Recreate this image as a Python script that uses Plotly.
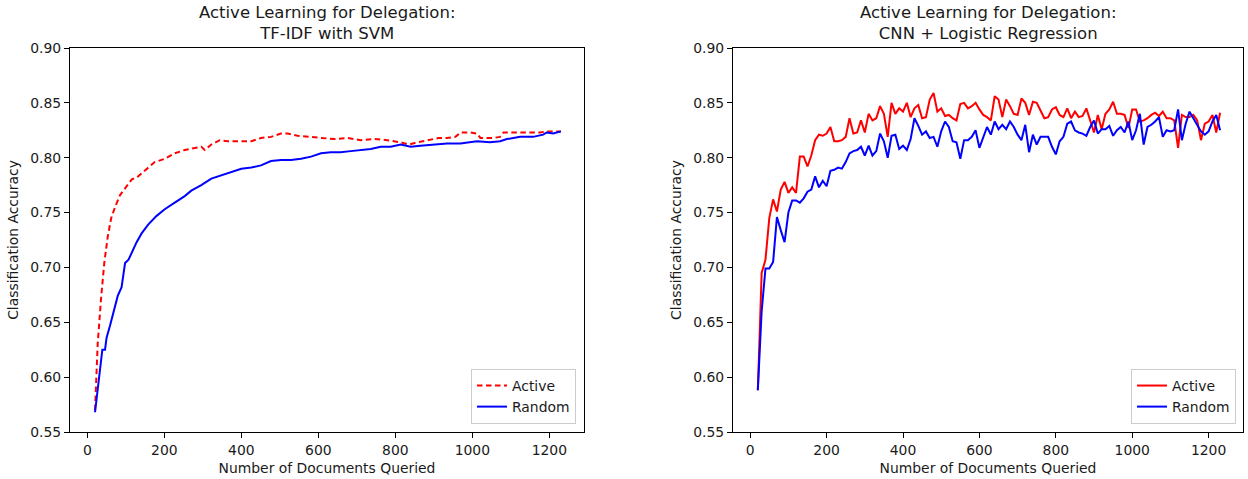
import plotly.graph_objects as go

# ---------------- Left panel: TF-IDF with SVM ----------------
svm_active_x = [20, 27, 36, 44, 53, 62, 72, 85, 98, 115, 132, 154, 175, 201, 227, 253, 270, 296, 305, 322,
                344, 365, 400, 426, 451, 477, 503, 520, 546, 581, 615, 641, 675, 710, 745, 779, 814, 835, 857,
                883, 913, 934, 956, 969, 995, 1012, 1021, 1055, 1072, 1081, 1124, 1176, 1193, 1230]
svm_active_y = [0.570, 0.631, 0.673, 0.704, 0.728, 0.745, 0.755, 0.766, 0.772, 0.780, 0.783, 0.790, 0.796,
                0.799, 0.804, 0.807, 0.808, 0.810, 0.807, 0.812, 0.816, 0.815, 0.815, 0.815, 0.818, 0.819,
                0.822, 0.822, 0.820, 0.819, 0.818, 0.817, 0.818, 0.816, 0.817, 0.816, 0.814, 0.812, 0.814,
                0.816, 0.818, 0.818, 0.819, 0.823, 0.823, 0.822, 0.818, 0.818, 0.819, 0.823, 0.823, 0.823,
                0.824, 0.824]

svm_random_x = [20, 29, 36, 39, 46, 50, 59, 68, 79, 89, 98, 107, 115, 128, 141, 158, 180, 201, 227, 253, 270,
                296, 322, 348, 374, 400, 426, 451, 477, 503, 529, 555, 581, 607, 632, 658, 684, 710, 736, 762,
                788, 814, 840, 865, 900, 934, 969, 1012, 1046, 1072, 1090, 1124, 1158, 1184, 1193, 1210, 1230]
svm_random_y = [0.568, 0.598, 0.621, 0.625, 0.625, 0.636, 0.647, 0.659, 0.674, 0.682, 0.704, 0.707, 0.713,
                0.723, 0.731, 0.739, 0.747, 0.753, 0.759, 0.765, 0.770, 0.775, 0.781, 0.784, 0.787, 0.790,
                0.791, 0.793, 0.797, 0.798, 0.798, 0.799, 0.801, 0.804, 0.805, 0.805, 0.806, 0.807, 0.808,
                0.810, 0.810, 0.812, 0.810, 0.811, 0.812, 0.813, 0.813, 0.815, 0.814, 0.815, 0.817, 0.819,
                0.819, 0.821, 0.823, 0.822, 0.824]

# ---------------- Right panel: CNN + Logistic Regression ----------------
cnn_x = list(range(20, 1231, 10))
cnn_active_y = [
    0.588, 0.695, 0.707, 0.745, 0.762, 0.751, 0.771, 0.778, 0.768, 0.773,
    0.768, 0.801, 0.801, 0.792, 0.802, 0.816, 0.821, 0.820, 0.822, 0.828,
    0.815, 0.815, 0.816, 0.819, 0.836, 0.822, 0.823, 0.834, 0.823, 0.840,
    0.834, 0.836, 0.847, 0.840, 0.819, 0.850, 0.840, 0.845, 0.842, 0.850,
    0.837, 0.845, 0.848, 0.836, 0.837, 0.853, 0.859, 0.842, 0.845, 0.838,
    0.839, 0.836, 0.834, 0.849, 0.850, 0.845, 0.847, 0.850, 0.844, 0.839,
    0.837, 0.834, 0.856, 0.853, 0.837, 0.853, 0.847, 0.840, 0.839, 0.854,
    0.850, 0.839, 0.851, 0.850, 0.843, 0.836, 0.837, 0.844, 0.846, 0.839,
    0.837, 0.845, 0.836, 0.842, 0.837, 0.838, 0.845, 0.834, 0.823, 0.839,
    0.826, 0.840, 0.844, 0.851, 0.840, 0.840, 0.839, 0.827, 0.844, 0.844,
    0.833, 0.834, 0.836, 0.839, 0.841, 0.838, 0.842, 0.836, 0.836, 0.834,
    0.809, 0.839, 0.837, 0.837, 0.839, 0.834, 0.816, 0.831, 0.833, 0.839,
    0.823, 0.841]
cnn_random_y = [
    0.588, 0.660, 0.699, 0.699, 0.705, 0.746, 0.734, 0.723, 0.750, 0.761,
    0.761, 0.759, 0.763, 0.769, 0.771, 0.783, 0.773, 0.779, 0.774, 0.788,
    0.789, 0.791, 0.790, 0.796, 0.804, 0.806, 0.807, 0.810, 0.802, 0.811,
    0.802, 0.806, 0.822, 0.815, 0.800, 0.820, 0.821, 0.808, 0.811, 0.807,
    0.817, 0.836, 0.829, 0.821, 0.824, 0.818, 0.819, 0.810, 0.824, 0.833,
    0.828, 0.815, 0.814, 0.799, 0.816, 0.816, 0.819, 0.825, 0.809, 0.818,
    0.828, 0.821, 0.833, 0.826, 0.830, 0.826, 0.833, 0.828, 0.821, 0.816,
    0.830, 0.805, 0.821, 0.812, 0.819, 0.819, 0.819, 0.810, 0.803, 0.815,
    0.819, 0.831, 0.833, 0.825, 0.823, 0.822, 0.820, 0.828, 0.834, 0.822,
    0.826, 0.826, 0.829, 0.820, 0.825, 0.828, 0.823, 0.833, 0.816, 0.825,
    0.840, 0.812, 0.828, 0.830, 0.833, 0.837, 0.819, 0.825, 0.824, 0.825,
    0.844, 0.816, 0.831, 0.842, 0.836, 0.830, 0.824, 0.821, 0.824, 0.833,
    0.839, 0.825]

titles = ["Active Learning for Delegation:<br>TF-IDF with SVM",
          "Active Learning for Delegation:<br>CNN + Logistic Regression"]
x_title = "Number of Documents Queried"
y_title = "Classification Accuracy"
x_ticks = [0, 200, 400, 600, 800, 1000, 1200]
y_ticks = [0.55, 0.60, 0.65, 0.70, 0.75, 0.80, 0.85, 0.90]

W, H = 1248, 479
FONT = "DejaVu Sans, Verdana, sans-serif"
RED, BLUE = "#ff0000", "#0000ff"
TXT = "#1a1a1a"
FS = 13.9

fig = go.Figure()
fig.add_trace(go.Scatter(x=svm_active_x, y=svm_active_y, mode="lines", name="Active",
                         line=dict(color=RED, width=2, dash="5.5px,3.5px"),
                         xaxis="x", yaxis="y", legend="legend"))
fig.add_trace(go.Scatter(x=svm_random_x, y=svm_random_y, mode="lines", name="Random",
                         line=dict(color=BLUE, width=2),
                         xaxis="x", yaxis="y", legend="legend"))
fig.add_trace(go.Scatter(x=cnn_x, y=cnn_active_y, mode="lines", name="Active",
                         line=dict(color=RED, width=2),
                         xaxis="x2", yaxis="y2", legend="legend2"))
fig.add_trace(go.Scatter(x=cnn_x, y=cnn_random_y, mode="lines", name="Random",
                         line=dict(color=BLUE, width=2),
                         xaxis="x2", yaxis="y2", legend="legend2"))

def px_x(p):
    return p / W

def px_y(p):
    return 1 - p / H

dom_y = [px_y(432), px_y(48)]
dom_x1 = [px_x(70), px_x(584)]
dom_x2 = [px_x(733), px_x(1243)]

axis_common = dict(showline=True, linecolor="black", linewidth=1, mirror=True,
                   ticks="outside", ticklen=5, tickwidth=1, tickcolor="black",
                   showgrid=False, zeroline=False, automargin=False,
                   tickfont=dict(family=FONT, size=FS, color=TXT))

xa = dict(axis_common, range=[-45, 1290], tickvals=x_ticks,
          title=dict(text=x_title, font=dict(family=FONT, size=FS, color=TXT), standoff=6))
ya = dict(axis_common, range=[0.55, 0.90], tickvals=y_ticks, tickformat=".2f",
          title=dict(text=y_title, font=dict(family=FONT, size=FS, color=TXT), standoff=8))

legend_common = dict(bgcolor="rgba(255,255,255,0.85)", bordercolor="#cccccc", borderwidth=1,
                     font=dict(family=FONT, size=FS, color=TXT),
                     xanchor="right", yanchor="bottom", tracegroupgap=0, itemwidth=30)

fig.update_layout(
    width=W, height=H,
    margin=dict(l=0, r=0, t=0, b=0, autoexpand=False),
    paper_bgcolor="white", plot_bgcolor="white",
    font=dict(family=FONT, size=FS, color=TXT),
    xaxis=dict(xa, domain=dom_x1, anchor="y"),
    yaxis=dict(ya, domain=dom_y, anchor="x"),
    xaxis2=dict(xa, domain=dom_x2, anchor="y2"),
    yaxis2=dict(ya, domain=dom_y, anchor="x2"),
    legend=dict(legend_common, x=px_x(576), y=px_y(424)),
    legend2=dict(legend_common, x=px_x(1236), y=px_y(424)),
    showlegend=True,
)

for t, dom in zip(titles, [dom_x1, dom_x2]):
    fig.add_annotation(text=t, xref="paper", yref="paper", x=(dom[0] + dom[1]) / 2,
                       y=px_y(23), xanchor="center", yanchor="middle", showarrow=False,
                       font=dict(family=FONT, size=16.5, color=TXT))

# remove the page's default body margin so the figure sits at the window corner
fig.write_html("out.html",
               config={"displayModeBar": False},
               post_script="document.documentElement.style.margin='0';"
                           "document.body.style.margin='0';"
                           "document.body.style.overflow='hidden';")
